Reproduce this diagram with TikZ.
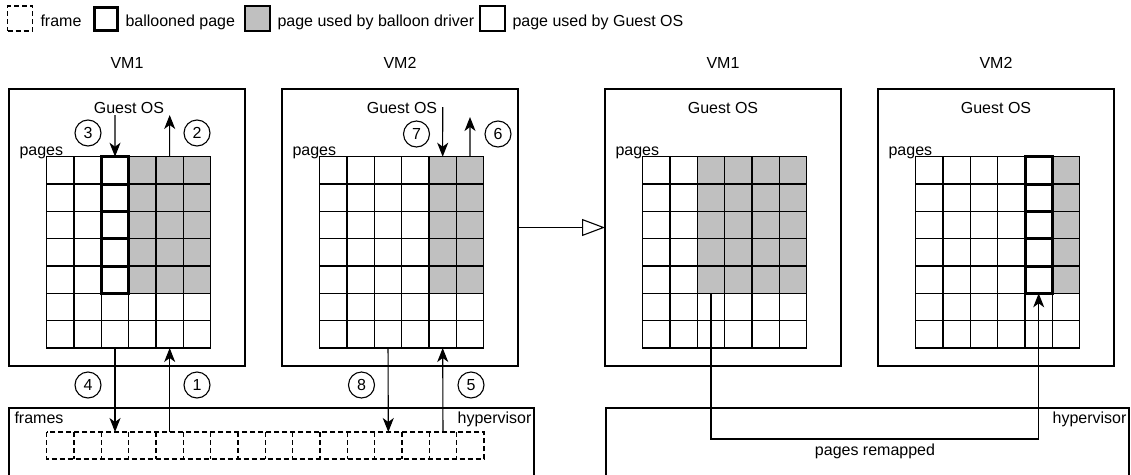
\documentclass[tikz,border=0pt]{standalone}
\usepackage{fontspec}
\setmainfont{Liberation Sans}
\usetikzlibrary{arrows.meta}
\definecolor{bgray}{RGB}{192,192,192}
\newcommand\vmgrid[4]{%
  \foreach \r in {0,...,6}{%
    \foreach \c in {0,...,5}{%
      \pgfmathtruncatemacro\isg{and(\r<5,\c>=#3)}%
      \ifnum\isg=1
        \node[cell,fill=bgray] (#1-\r-\c) at ({#2+37.7+(\c+0.5)*27.33},{156.7+(\r+0.5)*27.33}) {};
      \else
        \node[cell] (#1-\r-\c) at ({#2+37.7+(\c+0.5)*27.33},{156.7+(\r+0.5)*27.33}) {};
      \fi
    }%
  }%
  \ifnum#4>-1
    \foreach \r in {0,...,4}{\draw[balloon] (#1-\r-#4.north west) rectangle (#1-\r-#4.south east);}%
  \fi
}
\begin{document}
\begin{tikzpicture}[x=1pt,y=-1pt,line width=1.1pt,
  font=\fontsize{16}{19}\selectfont,
  cell/.style={draw,minimum size=27.33pt,inner sep=0pt,outer sep=0pt},
  balloon/.style={line width=3pt},
  vmbox/.style={draw,minimum width=236pt,minimum height=277pt,inner sep=0pt,outer sep=0pt},
  hvbox/.style={draw,minimum height=140pt,inner sep=0pt,outer sep=0pt},
  txt/.style={inner sep=0pt},
  num/.style={draw,circle,minimum size=26pt,inner sep=0pt},
  arr/.style={-{Stealth[length=14pt,width=11pt,inset=4pt]}},
  fdash/.style={dash pattern=on 5pt off 3pt}]
\useasboundingbox (0,0) rectangle (1131,474);
\clip (0,0) rectangle (1131,474);
% legend
\node[draw,fdash,minimum size=25pt,inner sep=0pt] (lg1) at (20,18.5) {};
\node[txt,anchor=base west] (lt1) at (40,26.5) {frame};
\node[draw,line width=3pt,minimum size=23pt,inner sep=0pt] (lg2) at (106,18.5) {};
\node[txt,anchor=base west] (lt2) at (125,26.5) {ballooned page};
\node[draw,fill=bgray,minimum size=25pt,inner sep=0pt] (lg3) at (257.5,18.5) {};
\node[txt,anchor=base west] (lt3) at (277,26.5) {page used by balloon driver};
\node[draw,minimum size=25pt,inner sep=0pt] (lg4) at (492.5,18.5) {};
\node[txt,anchor=base west] (lt4) at (512,26.5) {page used by Guest OS};
% VM labels
\node[txt,anchor=base] (vl1) at (127,68) {VM1};
\node[txt,anchor=base] (vl2) at (400,68) {VM2};
\node[txt,anchor=base] (vl3) at (723,68) {VM1};
\node[txt,anchor=base] (vl4) at (996,68) {VM2};
% VM boxes
\node[vmbox] (abox) at (127,227.5) {};
\node[vmbox] (bbox) at (400,227.5) {};
\node[vmbox] (cbox) at (723,227.5) {};
\node[vmbox] (dbox) at (996,227.5) {};
\foreach \n/\x in {ga/129,gb/402,gc/723,gd/996}{\node[txt,anchor=base] (\n) at (\x,113) {Guest OS};}
\foreach \n/\x in {pa/19,pb/292,pc/615,pd/888}{\node[txt,anchor=base west] (\n) at (\x,155) {pages};}
% grids
\vmgrid{a}{9}{3}{2}
\vmgrid{b}{282}{4}{-1}
\vmgrid{c}{605}{2}{-1}
\vmgrid{d}{878}{5}{4}
% hypervisors
\node[hvbox,minimum width=525pt] (hva) at (271.5,478) {};
\node[hvbox,minimum width=523pt] (hvb) at (867.5,478) {};
\node[txt,anchor=base west] (fr) at (14,423) {frames};
\node[txt,anchor=base east] (hta) at (532,423) {hypervisor};
\node[txt,anchor=base east] (htb) at (1127,423) {hypervisor};
% frames
\foreach \k in {0,...,15}{\node[minimum width=27.33pt,minimum height=27pt,inner sep=0pt,outer sep=0pt] (f\k) at ({46.7+(\k+0.5)*27.33},445.5) {};}
\draw[fdash] (f0.north west) rectangle (f15.south east);
\foreach \k in {1,...,15}{\draw[fdash] (f\k.north west) -- (f\k.south west);}
% top arrows
\coordinate (t3) at (115,115);
\coordinate (t2) at (169.7,115);
\coordinate (t7) at (442.7,107);
\coordinate (t6) at (470,117);
\draw[arr] (t3) -- (a-0-2.north);
\draw[arr] (a-0-4.north) -- (t2);
\draw[arr] (t7) -- (b-0-4.north);
\draw[arr] (b-0-5.north) -- (t6);
% bottom arrows
\draw[arr] (a-6-2.south) -- (f2.north);
\draw[arr] (f4.north) -- (a-6-4.south);
\draw[arr] (b-6-2.south) -- (f12.north);
\draw[arr] (f14.north) -- (b-6-4.south);
% numbers
\node[num] (n3) at (88,133) {3};
\node[num] (n2) at (197,133) {2};
\node[num] (n7) at (416.5,134) {7};
\node[num] (n6) at (498,134) {6};
\node[num] (n4) at (88,385) {4};
\node[num] (n1) at (197,385) {1};
\node[num] (n8) at (361.5,385) {8};
\node[num] (n5) at (471,385) {5};
% transition arrow
\draw[-{Triangle[open,length=23pt,width=17pt]}] (bbox.east) -- (cbox.west);
% remap
\coordinate (rmy) at (0,439);
\draw[arr] (c-4-2.south) -- (c-4-2.south |- rmy) -- (d-4-4.south |- rmy) -- (d-4-4.south);
\node[txt,anchor=base] (rmt) at (875,455) {pages remapped};
\end{tikzpicture}
\end{document}
